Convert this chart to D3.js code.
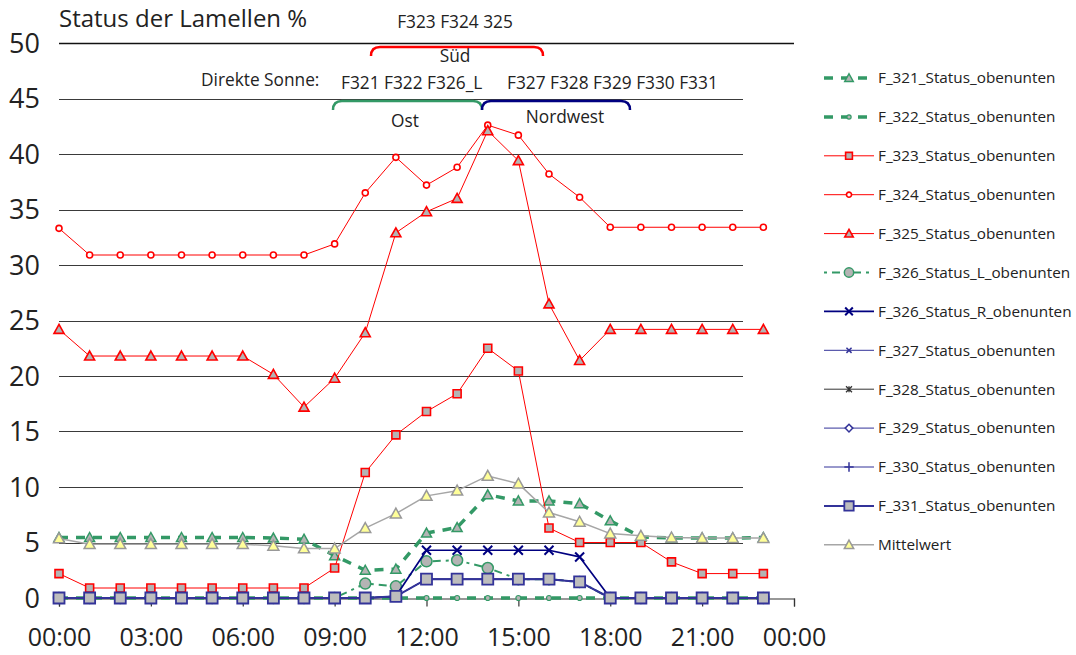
<!DOCTYPE html>
<html><head><meta charset="utf-8">
<script src="https://cdn.jsdelivr.net/npm/d3@7"></script>
<style>
html,body{margin:0;padding:0;background:#fff;}
svg{display:block;font-family:"Open Sans","Noto Sans",sans-serif;}
</style></head>
<body>
<svg id="chart" width="1076" height="655"></svg>
<script>
// ---------- DATA ----------
const hours = [0,1,2,3,4,5,6,7,8,9,10,11,12,13,14,15,16,17,18,19,20,21,22,23];
const xTickValues = [0,3,6,9,12,15,18,21,24];
const xTickLabels = ["00:00","03:00","06:00","09:00","12:00","15:00","18:00","21:00","00:00"];
const yTickValues = [0,5,10,15,20,25,30,35,40,45,50];

const f321 = [5.45,5.45,5.45,5.45,5.45,5.45,5.45,5.4,5.3,3.8,2.5,2.6,5.85,6.35,9.3,8.75,8.75,8.5,6.95,5.5,5.4,5.4,5.4,5.45];
const f322 = [0,0,0,0,0,0,0,0,0,0,0,0,0,0,0,0,0,0,0,0,0,0,0,0];
const f323 = [2.2,0.9,0.9,0.9,0.9,0.9,0.9,0.9,0.9,2.7,11.3,14.7,16.8,18.4,22.5,20.45,6.3,5.0,5.0,5.0,3.25,2.2,2.2,2.2];
const f324 = [33.3,30.9,30.9,30.9,30.9,30.9,30.9,30.9,30.9,31.9,36.5,39.7,37.2,38.8,42.6,41.7,38.2,36.1,33.4,33.4,33.4,33.4,33.4,33.4];
const f325 = [24.2,21.8,21.8,21.8,21.8,21.8,21.8,20.15,17.2,19.8,23.9,32.9,34.8,36.0,42.1,39.4,26.5,21.4,24.2,24.2,24.2,24.2,24.2,24.2];
const f326L = [0,0,0,0,0,0,0,0,0,0,1.3,1.05,3.3,3.4,2.7,1.7,1.7,1.45,0,0,0,0,0,0];
const f326R = [0,0,0,0,0,0,0,0,0,0,0,0.15,4.3,4.3,4.3,4.3,4.3,3.7,0,0,0,0,0,0];
const f327 = [0,0,0,0,0,0,0,0,0,0,0,0.15,1.7,1.7,1.7,1.7,1.7,1.45,0,0,0,0,0,0];
const f328 = [0,0,0,0,0,0,0,0,0,0,0,0.15,1.7,1.7,1.7,1.7,1.7,1.45,0,0,0,0,0,0];
const f329 = [0,0,0,0,0,0,0,0,0,0,0,0.15,1.7,1.7,1.7,1.7,1.7,1.45,0,0,0,0,0,0];
const f330 = [0,0,0,0,0,0,0,0,0,0,0,0.15,1.7,1.7,1.7,1.7,1.7,1.45,0,0,0,0,0,0];
const f331 = [0,0,0,0,0,0,0,0,0,0,0,0.15,1.7,1.7,1.7,1.7,1.7,1.45,0,0,0,0,0,0];
const mittelwert = [5.37,4.85,4.85,4.85,4.85,4.85,4.85,4.7,4.47,4.45,6.3,7.6,9.2,9.67,11.0,10.3,7.7,6.87,5.8,5.6,5.45,5.4,5.4,5.4];

const seriesNames = ["F_321_Status_obenunten","F_322_Status_obenunten","F_323_Status_obenunten","F_324_Status_obenunten","F_325_Status_obenunten","F_326_Status_L_obenunten","F_326_Status_R_obenunten","F_327_Status_obenunten","F_328_Status_obenunten","F_329_Status_obenunten","F_330_Status_obenunten","F_331_Status_obenunten","Mittelwert"];
const seriesValues = [f321,f322,f323,f324,f325,f326L,f326R,f327,f328,f329,f330,f331,mittelwert];

// ---------- STYLES ----------
const GREEN = "#339966", RED = "#ff0000", NAVY = "#000080", BLUE = "#333399";
const styles = [
  {stroke:GREEN, w:3.5, dash:"9,8", marker:"triangle", size:10, fill:"#b4b4b4", mstroke:GREEN, mw:1.5},
  {stroke:GREEN, w:3.5, dash:"9,8", marker:"circle", size:5, fill:"#b4b4b4", mstroke:GREEN, mw:1.2},
  {stroke:RED, w:1, dash:null, marker:"square", size:8, fill:"#b4b4b4", mstroke:RED, mw:1.6},
  {stroke:RED, w:1, dash:null, marker:"circle", size:6, fill:"#ffffff", mstroke:RED, mw:1.6},
  {stroke:RED, w:1, dash:null, marker:"triangle", size:10, fill:"#b4b4b4", mstroke:RED, mw:1.6},
  {stroke:GREEN, w:2, dash:"3,5,8,5", marker:"circle", size:11, fill:"#b4b4b4", mstroke:GREEN, mw:1.5},
  {stroke:NAVY, w:1.7, dash:null, marker:"x", size:9, fill:"none", mstroke:NAVY, mw:2},
  {stroke:BLUE, w:1, dash:null, marker:"x", size:6, fill:"none", mstroke:BLUE, mw:1.5},
  {stroke:"#333333", w:1, dash:null, marker:"star", size:7, fill:"none", mstroke:"#333333", mw:1.3},
  {stroke:BLUE, w:1, dash:null, marker:"diamond", size:9, fill:"#ffffff", mstroke:BLUE, mw:1.5},
  {stroke:BLUE, w:1, dash:null, marker:"plus", size:11, fill:"none", mstroke:BLUE, mw:1.5},
  {stroke:BLUE, w:2, dash:null, marker:"square", size:11, fill:"#bdbdbd", mstroke:BLUE, mw:1.8},
  {stroke:"#a6a6a6", w:1.5, dash:null, marker:"triangle", size:11, fill:"#ffff99", mstroke:"#999999", mw:1.5}
];

function markerPath(type, s){
  const h = s/2;
  switch(type){
    case "triangle": return `M0,${-h}L${h},${h*0.8}L${-h},${h*0.8}Z`;
    case "square": return `M${-h},${-h}H${h}V${h}H${-h}Z`;
    case "circle": return `M${h},0A${h},${h} 0 1,1 ${-h},0A${h},${h} 0 1,1 ${h},0Z`;
    case "diamond": return `M0,${-h}L${h},0L0,${h}L${-h},0Z`;
    case "x": return `M${-h},${-h}L${h},${h}M${-h},${h}L${h},${-h}`;
    case "plus": return `M${-h},0H${h}M0,${-h}V${h}`;
    case "star": return `M${-h},${-h}L${h},${h}M${-h},${h}L${h},${-h}M0,${-h}V${h}`;
  }
}

// ---------- SCALES ----------
const svg = d3.select("#chart");
const x = d3.scaleLinear().domain([0,24]).range([59,794]);
const y = d3.scaleLinear().domain([0,50]).range([598,43]);
const gridEnd = 743;

// gridlines
svg.append("g").selectAll("line").data(yTickValues.filter(v=>v>0 && v<50)).join("line")
  .attr("x1",x(0)).attr("x2",gridEnd)
  .attr("y1",d=>Math.round(y(d))+0.5).attr("y2",d=>Math.round(y(d))+0.5)
  .attr("stroke","#3a3a3a").attr("stroke-width",1);
svg.append("line").attr("x1",x(0)).attr("x2",x(24))
  .attr("y1",Math.round(y(50))+0.5).attr("y2",Math.round(y(50))+0.5)
  .attr("stroke","#111").attr("stroke-width",1.3);

// y labels
svg.append("g").selectAll("text").data(yTickValues).join("text")
  .attr("x",40).attr("y",d=>y(d)).attr("dy","0.36em")
  .attr("text-anchor","end").attr("font-size",27).attr("fill","#222")
  .text(d=>d);

// x axis
const xAxis = d3.axisBottom(x).tickValues(xTickValues)
  .tickFormat((d,i)=>xTickLabels[i]).tickSize(8).tickPadding(22);
const gx = svg.append("g").attr("transform",`translate(0,${Math.round(y(0))+0.5})`).call(xAxis);
gx.select(".domain").attr("stroke","#333").attr("stroke-width",1.2);
gx.selectAll(".tick line").attr("stroke","#333").attr("stroke-width",1.2);
gx.selectAll(".tick text").attr("font-size",25).attr("fill","#222")
  .attr("font-family","\"Open Sans\",\"Noto Sans\",sans-serif");

// title
svg.append("text").attr("x",59).attr("y",27).attr("font-size",24).attr("fill","#222")
  .text("Status der Lamellen %");

// annotations
const ann = svg.append("g").attr("fill","#222").attr("font-size",17.3);
ann.append("text").attr("x",455).attr("y",28).attr("text-anchor","middle").text("F323 F324 325");
ann.append("text").attr("x",455).attr("y",62).attr("text-anchor","middle").text("Süd");
ann.append("text").attr("x",201).attr("y",86).text("Direkte Sonne:");
ann.append("text").attr("x",341).attr("y",89).text("F321 F322 F326_L");
ann.append("text").attr("x",507).attr("y",89).text("F327 F328 F329 F330 F331");
ann.append("text").attr("x",405).attr("y",127).attr("text-anchor","middle").text("Ost");
ann.append("text").attr("x",565).attr("y",123).attr("text-anchor","middle").text("Nordwest");
function bracket(x0,x1,top,bottom,color){
  const r = 9;
  svg.append("path")
    .attr("d",`M${x0},${bottom}Q${x0},${top} ${x0+r},${top}L${x1-r},${top}Q${x1},${top} ${x1},${bottom}`)
    .attr("fill","none").attr("stroke",color).attr("stroke-width",2.5);
}
bracket(371,543,47,56,RED);
bracket(333,482,101,110,GREEN);
bracket(482,630,101,110,NAVY);

// series
const line = d3.line().x((d,i)=>x(hours[i])).y(d=>y(d));
seriesValues.forEach((vals,k)=>{
  const st = styles[k];
  const g = svg.append("g");
  g.append("path").attr("d",line(vals)).attr("fill","none")
    .attr("stroke",st.stroke).attr("stroke-width",st.w)
    .attr("stroke-dasharray",st.dash).attr("stroke-linejoin","round");
  g.selectAll("path.m").data(vals).join("path").attr("class","m")
    .attr("transform",(d,i)=>`translate(${x(hours[i])},${y(d)})`)
    .attr("d",markerPath(st.marker,st.size))
    .attr("fill",st.fill).attr("stroke",st.mstroke).attr("stroke-width",st.mw);
});

// legend
const legY0 = 78, legStep = 38.9;
const leg = svg.append("g");
seriesNames.forEach((name,k)=>{
  const st = styles[k];
  const yy = legY0 + k*legStep;
  leg.append("line").attr("x1",824).attr("x2",874).attr("y1",yy).attr("y2",yy)
    .attr("stroke",st.stroke).attr("stroke-width",st.w).attr("stroke-dasharray",st.dash);
  leg.append("path").attr("transform",`translate(849,${yy})`)
    .attr("d",markerPath(st.marker,st.size*0.85))
    .attr("fill",st.fill).attr("stroke",st.mstroke).attr("stroke-width",st.mw);
  leg.append("text").attr("x",878).attr("y",yy).attr("dy","0.35em")
    .attr("font-size",15.3).attr("fill","#222").text(name);
});
</script>
</body></html>
